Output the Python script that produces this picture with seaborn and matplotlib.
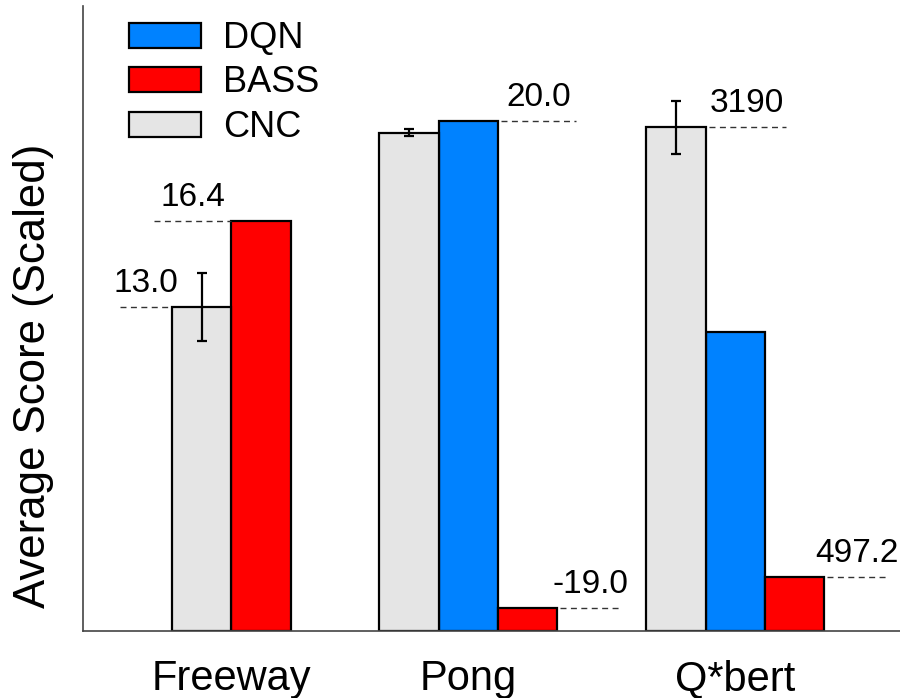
import matplotlib
matplotlib.use("Agg")
import numpy as np
import pandas as pd
import matplotlib.pyplot as plt
import seaborn as sns

# Bars (scores are scaled per game, axis has no ticks)
bar_game = ['Freeway', 'Freeway', 'Pong', 'Pong', 'Pong', 'Q*bert', 'Q*bert', 'Q*bert']
bar_method = ['CNC', 'BASS', 'CNC', 'DQN', 'BASS', 'CNC', 'DQN', 'BASS']
bar_score = [0.518, 0.656, 0.797, 0.816, 0.037, 0.806, 0.478, 0.086]
bar_err = [0.054, 0.0, 0.0056, 0.0, 0.0, 0.042, 0.0, 0.0]
# raw score printed next to some bars
bar_label = ['13.0', '16.4', None, '20.0', '-19.0', '3190', None, '497.2']

methods = ['DQN', 'BASS', 'CNC']
palette = {'DQN': '#0082FF', 'BASS': '#FF0000', 'CNC': '#E5E5E5'}

# layout: group centres (in bar widths) and annotation style
group_center = {'Freeway': 2.5, 'Pong': 6.5, 'Q*bert': 11.0}
ann_side = ['left', 'left', None, 'right', 'right', 'right', None, 'right']
ann_len = [0.88, 1.30, 0, 1.27, 1.0, 1.30, 0, 1.0]

# dodge bars around their group centre
pos = []
for i, g in enumerate(bar_game):
    members = [j for j, gg in enumerate(bar_game) if gg == g]
    k = members.index(i)
    pos.append(group_center[g] + k - (len(members) - 1) / 2)

df = pd.DataFrame({'pos': pos, 'game': bar_game, 'method': bar_method,
                   'score': bar_score, 'err': bar_err, 'label': bar_label})

sns.set_style('white')
plt.rcParams['font.family'] = ['Liberation Sans', 'DejaVu Sans']
plt.rcParams['text.color'] = 'black'
plt.rcParams['axes.labelcolor'] = 'black'
plt.rcParams['xtick.color'] = 'black'

fig = plt.figure(figsize=(9, 6.98), dpi=100)
ax = fig.add_axes([83 / 900, 67 / 698, 817 / 900, 625 / 698])

sns.barplot(data=df, x='pos', y='score', hue='method', hue_order=methods,
            palette=palette, saturation=1, native_scale=True, width=1.0,
            dodge=False, edgecolor='black', linewidth=1.6, errorbar=None, ax=ax)

# error bars on the CNC runs
e = df[df['err'] > 0]
ax.errorbar(e['pos'], e['score'], yerr=e['err'], fmt='none', ecolor='black',
            elinewidth=1.6, capsize=3.3, capthick=1.6, zorder=5)

# dashed leader lines with raw scores
for i, row in df.iterrows():
    if row['label'] is None:
        continue
    if ann_side[i] == 'left':
        x1 = row['pos'] - 0.5
        x0 = x1 - ann_len[i]
    else:
        x0 = row['pos'] + 0.5 + 0.05
        x1 = x0 + ann_len[i]
    ax.plot([x0, x1], [row['score'], row['score']], color='#333333',
            lw=1.0, linestyle=(0, (4.3, 3.2)), clip_on=False)
    ax.annotate(row['label'], xy=((x0 + x1) / 2, row['score']),
                xytext=(0, 6), textcoords='offset points',
                ha='center', va='bottom', fontsize=24, annotation_clip=False)

ax.set_xlim(0, 817 / 59.3)
ax.set_ylim(0, 1.0)
ax.set_xticks(list(group_center.values()))
ax.set_xticklabels(list(group_center.keys()), fontsize=30)
ax.tick_params(axis='x', length=0, pad=20)
ax.set_yticks([])
ax.set_xlabel('')
ax.set_ylabel('Average Score (Scaled)', fontsize=31.5)
ax.yaxis.set_label_coords(-0.036, 0.408)

for side in ['top', 'right']:
    ax.spines[side].set_visible(False)
for side in ['left', 'bottom']:
    ax.spines[side].set_color('#444444')
    ax.spines[side].set_linewidth(1.2)

handles, labels = ax.get_legend_handles_labels()
for h in handles:
    h.set_edgecolor('black')
    h.set_linewidth(1.6)
ax.legend(handles, labels, loc='upper left', bbox_to_anchor=(0.056, 0.976),
          frameon=False, fontsize=26, borderaxespad=0, borderpad=0,
          handlelength=2.0, handleheight=0.7, handletextpad=0.6,
          labelspacing=0.26)

fig.savefig('out.png', dpi=100)
